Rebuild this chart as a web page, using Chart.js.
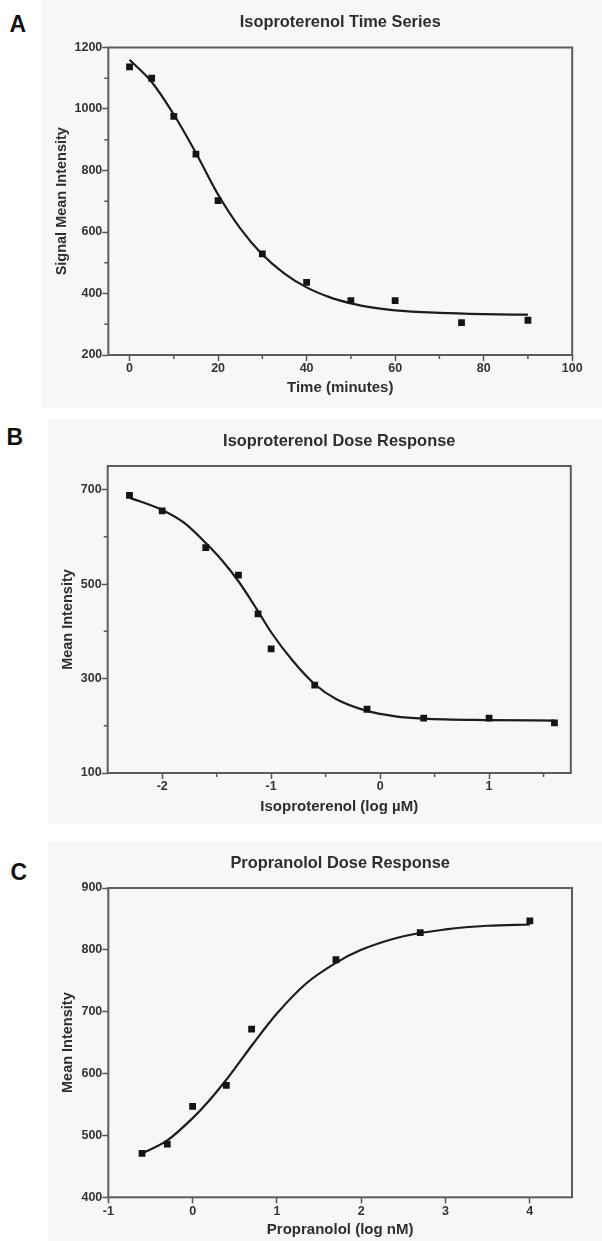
<!DOCTYPE html>
<html>
<head>
<meta charset="utf-8">
<script src="https://cdn.jsdelivr.net/npm/chart.js@4.4.0/dist/chart.umd.min.js"></script>
<style>
  body { margin: 0; width: 602px; height: 1241px; background: #fff; position: relative; overflow: hidden; }
  canvas { position: absolute; background: #f7f7f7; }
  .tag { position: absolute; font: bold 23px/23px 'Liberation Sans', Arial, sans-serif; color: #111; }
</style>
</head>
<body>
<div class="tag" style="left:9.6px;top:12.5px">A</div>
<div class="tag" style="left:6.6px;top:425.5px">B</div>
<div class="tag" style="left:10.5px;top:860.5px">C</div>
<canvas id="chartA" width="561" height="408" style="left:41px;top:0px"></canvas>
<canvas id="chartB" width="554" height="405" style="left:48px;top:419px"></canvas>
<canvas id="chartC" width="554" height="399" style="left:48px;top:842px"></canvas>
<script>
// A: isoproterenol time series
const timeMinutes = [0, 5, 10, 15, 20, 30, 40, 50, 60, 75, 90];
const timeSignal = [1137, 1100, 976, 853, 702, 529, 436, 377, 377, 305, 313];
const timeFitX = [0, 5, 10, 15, 20, 25, 30, 35, 40, 45, 50, 55, 60, 70, 80, 90];
const timeFitY = [1160, 1088, 982, 857, 722, 612, 527, 465, 420, 389, 368, 354, 345, 337, 333, 331];
const timeTicksX = [0, 20, 40, 60, 80, 100];
const timeMinorX = [10, 30, 50, 70, 90];
const timeTicksY = [200, 400, 600, 800, 1000, 1200];
const timeMinorY = [300, 500, 700, 900, 1100];

// B: isoproterenol dose response
const isoLogDose = [-2.3, -2.0, -1.6, -1.3, -1.12, -1.0, -0.6, -0.12, 0.4, 1.0, 1.6];
const isoIntensity = [688, 655, 577, 519, 437, 363, 286, 235, 216, 216, 206];
const isoFitX = [-2.3, -2.0, -1.8, -1.6, -1.45, -1.3, -1.13, -1.0, -0.8, -0.6, -0.4, -0.13, 0.14, 0.4, 1.0, 1.6];
const isoFitY = [683, 657, 630, 587, 550, 506, 446, 398, 337, 288, 256, 232, 220, 215, 212, 211];
const isoTicksX = [-2, -1, 0, 1];
const isoMinorX = [-1.5, -0.5, 0.5, 1.5];
const isoTicksY = [100, 300, 500, 700];
const isoMinorY = [200, 400, 600];

// C: propranolol dose response
const propLogDose = [-0.6, -0.3, 0, 0.4, 0.7, 1.7, 2.7, 4.0];
const propIntensity = [471, 486, 547, 581, 672, 784, 828, 847];
const propFitX = [-0.6, -0.3, 0, 0.2, 0.4, 0.7, 1.0, 1.35, 1.7, 2.0, 2.5, 3.0, 3.5, 4.0];
const propFitY = [471, 492, 528, 557, 590, 645, 697, 746, 779, 800, 822, 833, 839, 841];
const propTicksX = [-1, 0, 1, 2, 3, 4];
const propTicksY = [400, 500, 600, 700, 800, 900];

const FONT = "'Liberation Sans', Arial, sans-serif";
Chart.defaults.font.family = FONT;
Chart.defaults.color = '#333';

const framePlugin = {
    id: 'frame',
    afterDraw(chart) {
        const ctx = chart.ctx;
        const a = chart.chartArea;
        const cfg = chart.options.plugins.frame;
        ctx.save();
        ctx.strokeStyle = '#555';
        ctx.lineWidth = 1.5;
        ctx.beginPath();
        cfg.minorY.forEach(v => {
            const y = chart.scales.y.getPixelForValue(v);
            ctx.moveTo(a.left - 4, y);
            ctx.lineTo(a.left, y);
        });
        cfg.minorX.forEach(v => {
            const x = chart.scales.x.getPixelForValue(v);
            ctx.moveTo(x, a.bottom);
            ctx.lineTo(x, a.bottom + 4);
        });
        ctx.stroke();
        ctx.strokeStyle = '#5c5c5c';
        ctx.lineWidth = 2;
        ctx.strokeRect(a.left, a.top, a.right - a.left, a.bottom - a.top);
        ctx.fillStyle = '#2e2e2e';
        ctx.font = 'bold 16.4px ' + FONT;
        ctx.textAlign = 'center';
        ctx.textBaseline = 'alphabetic';
        ctx.fillText(cfg.title, (a.left + a.right) / 2, cfg.titleBase);
        ctx.restore();
    }
};

function axis(min, max, ticks, title, titlePad, fit, isX) {
    return {
        type: 'linear',
        min: min,
        max: max,
        afterBuildTicks: s => { s.ticks = ticks.map(v => ({ value: v })); },
        afterFit: s => { if (isX) s.height = fit; else s.width = fit; },
        grid: { drawOnChartArea: false, tickLength: 6, tickColor: '#555', tickWidth: 1.5 },
        border: { display: false },
        ticks: {
            padding: isX ? 0.5 : 0,
            maxRotation: 0,
            autoSkip: false,
            color: '#333',
            font: { size: 12.5, weight: 'bold' },
            callback: v => String(v)
        },
        title: {
            display: true,
            text: title,
            color: '#2e2e2e',
            font: { size: isX ? 15 : 14.5, weight: 'bold' },
            padding: isX ? { top: 0, bottom: titlePad } : { top: titlePad, bottom: 0 }
        }
    };
}

function drawPanel(id, p) {
    return new Chart(document.getElementById(id), {
        type: 'scatter',
        data: {
            datasets: [
                {
                    data: p.px.map((x, i) => ({ x: x, y: p.py[i] })),
                    pointStyle: 'rect',
                    pointRadius: 4.8,
                    pointBackgroundColor: '#141414',
                    pointBorderWidth: 0,
                    order: 0
                },
                {
                    data: p.fx.map((x, i) => ({ x: x, y: p.fy[i] })),
                    showLine: true,
                    pointRadius: 0,
                    borderColor: '#1c1c1c',
                    borderWidth: 2.2,
                    cubicInterpolationMode: 'monotone',
                    order: 1
                }
            ]
        },
        options: {
            responsive: false,
            animation: false,
            events: [],
            layout: { padding: { left: 0, right: p.right, top: p.top, bottom: 0 } },
            plugins: {
                legend: { display: false },
                tooltip: { enabled: false },
                frame: { title: p.title, titleBase: p.titleBase, minorX: p.minorX, minorY: p.minorY }
            },
            scales: {
                x: axis(p.xMin, p.xMax, p.ticksX, p.xTitle, p.xTitlePad, p.bottom, true),
                y: axis(p.yMin, p.yMax, p.ticksY, p.yTitle, p.yTitlePad, p.left, false)
            }
        },
        plugins: [framePlugin]
    });
}

drawPanel('chartA', {
    px: timeMinutes, py: timeSignal, fx: timeFitX, fy: timeFitY,
    xMin: -4.8, xMax: 100, yMin: 200, yMax: 1200,
    ticksX: timeTicksX, ticksY: timeTicksY, minorX: timeMinorX, minorY: timeMinorY,
    title: 'Isoproterenol Time Series', titleBase: 26.7,
    xTitle: 'Time (minutes)', yTitle: 'Signal Mean Intensity',
    left: 67.3, right: 29.8, top: 47.5, bottom: 53,
    xTitlePad: 11, yTitlePad: 12.6
});

drawPanel('chartB', {
    px: isoLogDose, py: isoIntensity, fx: isoFitX, fy: isoFitY,
    xMin: -2.5, xMax: 1.75, yMin: 100, yMax: 750,
    ticksX: isoTicksX, ticksY: isoTicksY, minorX: isoMinorX, minorY: isoMinorY,
    title: 'Isoproterenol Dose Response', titleBase: 27,
    xTitle: 'Isoproterenol (log µM)', yTitle: 'Mean Intensity',
    left: 59.7, right: 31.2, top: 47, bottom: 51,
    xTitlePad: 8.6, yTitlePad: 11.3
});

drawPanel('chartC', {
    px: propLogDose, py: propIntensity, fx: propFitX, fy: propFitY,
    xMin: -1, xMax: 4.5, yMin: 400, yMax: 900,
    ticksX: propTicksX, ticksY: propTicksY, minorX: [], minorY: [],
    title: 'Propranolol Dose Response', titleBase: 25.7,
    xTitle: 'Propranolol (log nM)', yTitle: 'Mean Intensity',
    left: 60.3, right: 30, top: 46, bottom: 43.7,
    xTitlePad: 2.3, yTitlePad: 11.3
});
</script>
</body>
</html>
